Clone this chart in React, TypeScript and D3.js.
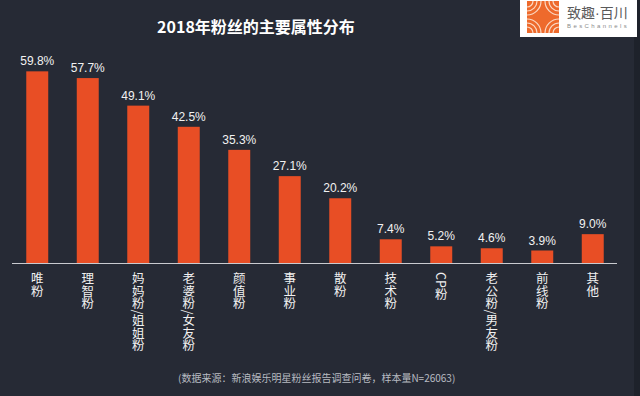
import React, { useEffect, useRef } from "react";
import * as d3 from "d3";

const categories = ["唯粉", "理智粉", "妈妈粉/姐姐粉", "老婆粉/女友粉", "颜值粉", "事业粉", "散粉", "技术粉", "CP粉", "老公粉/男友粉", "前线粉", "其他"];
const shares = [59.8, 57.7, 49.1, 42.5, 35.3, 27.1, 20.2, 7.4, 5.2, 4.6, 3.9, 9.0];

const W = 640, H = 396;
const cjk = "'Noto Sans CJK SC', 'Liberation Sans', sans-serif";
const latin = "'Liberation Sans', Arial, 'Noto Sans CJK SC', sans-serif";

export default function App() {
  const ref = useRef<SVGSVGElement>(null);

  useEffect(() => {
    document.body.style.margin = "0";
    const svg = d3.select(ref.current);
    svg.selectAll("*").remove();

    svg.append("rect").attr("width", W).attr("height", H).attr("fill", "#262a35");
    svg.append("rect").attr("x", 634).attr("width", 6).attr("height", H).attr("fill", "#1e222b");

    const base = 263;
    const x = d3.scaleBand().domain(categories).range([12, 618]).paddingInner(0.565).paddingOuter(0.2825);
    const y = d3.scaleLinear().domain([0, 60]).range([base, base - 192.3]);

    // title
    svg.append("text").attr("x", 256).attr("y", 33).attr("text-anchor", "middle")
      .style("font-family", cjk).style("font-size", "16px").style("font-weight", "bold")
      .attr("fill", "#ffffff").text("2018年粉丝的主要属性分布");

    // bars
    svg.selectAll(".bar").data(shares).join("rect").attr("class", "bar")
      .attr("x", (d, i) => x(categories[i])!)
      .attr("y", d => y(d))
      .attr("width", x.bandwidth())
      .attr("height", d => base - y(d))
      .attr("fill", "#e84e25");

    svg.selectAll(".val").data(shares).join("text").attr("class", "val")
      .attr("x", (d, i) => x(categories[i])! + x.bandwidth() / 2)
      .attr("y", d => y(d) - 6)
      .attr("text-anchor", "middle")
      .style("font-family", latin).style("font-size", "12px")
      .attr("fill", "#f2f2f2")
      .text(d => d.toFixed(1) + "%");

    // baseline
    svg.append("line").attr("x1", 12).attr("x2", 617).attr("y1", base + 0.5).attr("y2", base + 0.5)
      .attr("stroke", "#c9cbd0").attr("stroke-width", 1);

    // vertical category labels
    svg.selectAll(".cat").data(categories).join("text").attr("class", "cat")
      .attr("x", d => x(d)! + x.bandwidth() / 2)
      .attr("y", 272)
      .style("writing-mode", "vertical-rl")
      .style("font-family", cjk).style("font-size", "12.5px")
      .attr("fill", "#f0f0f0")
      .text(d => d);

    // footnote
    svg.append("text").attr("x", 178).attr("y", 382)
      .style("font-family", cjk).style("font-size", "10px")
      .attr("fill", "#b8bbc2")
      .text("(数据来源：新浪娱乐明星粉丝报告调查问卷，样本量N=26063)");

    // logo
    const logo = svg.append("g");
    logo.append("rect").attr("x", 520).attr("y", 0).attr("width", 117).attr("height", 37).attr("fill", "#ffffff");
    logo.append("rect").attr("x", 527).attr("y", 1).attr("width", 32).attr("height", 32).attr("fill", "#ee6a2c");
    const arcs = logo.append("g").attr("fill", "none").attr("stroke", "#fbd9c4").attr("stroke-width", 1.2);
    [6, 10, 14].forEach(r => {
      arcs.append("path").attr("d", `M ${527 + r} 1 A ${r} ${r} 0 0 1 527 ${1 + r}`);
      arcs.append("path").attr("d", `M ${559 - r} 33 A ${r} ${r} 0 0 1 559 ${33 - r}`);
      arcs.append("path").attr("d", `M ${527 + r} 33 A ${r} ${r} 0 0 0 527 ${33 - r}`);
      arcs.append("path").attr("d", `M ${559 - r} 1 A ${r} ${r} 0 0 0 559 ${1 + r}`);
    });
    const brand = logo.append("text").attr("x", 567).attr("y", 18)
      .style("font-family", cjk).style("font-size", "14px").attr("fill", "#5a5a5a");
    brand.append("tspan").text("致趣");
    brand.append("tspan").style("font-family", latin).text("·");
    brand.append("tspan").text("百川");
    logo.append("text").attr("x", 567).attr("y", 28)
      .style("font-family", latin).style("font-size", "6px").style("letter-spacing", "2.4px")
      .attr("fill", "#8a8a8a").text("BesChannels");
  }, []);

  return (
    <div style={{ position: "absolute", left: 0, top: 0 }}>
      <svg ref={ref} width={W} height={H} style={{ display: "block" }} />
    </div>
  );
}
